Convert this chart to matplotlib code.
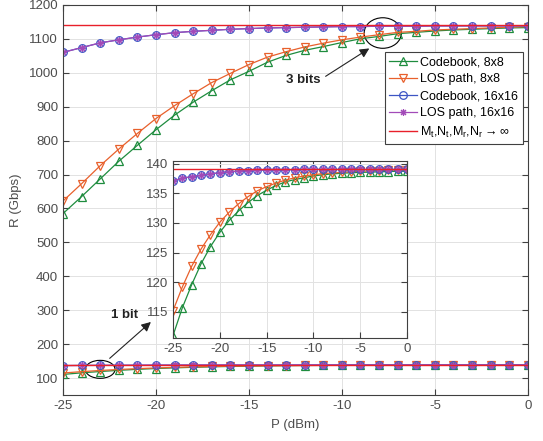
import matplotlib
matplotlib.use("Agg")
import matplotlib.pyplot as plt
from matplotlib.patches import Ellipse

plt.rcParams['font.family'] = ['Liberation Sans', 'DejaVu Sans']
plt.rcParams['mathtext.fontset'] = 'custom'
plt.rcParams['mathtext.rm'] = 'Liberation Sans'
plt.rcParams['axes.unicode_minus'] = False

# transmit power (dBm)
P = [-25, -24, -23, -22, -21, -20, -19, -18, -17, -16, -15, -14, -13,
     -12, -11, -10, -9, -8, -7, -6, -5, -4, -3, -2, -1, 0]

# 3 bits
cb8_3 = [585, 635, 687, 739, 786, 832, 875, 913, 947, 979, 1004, 1031, 1051,
         1066, 1077, 1089, 1100, 1107, 1115, 1119, 1123, 1126, 1128, 1130, 1132, 1133]
los8_3 = [622, 673, 726, 775, 821, 865, 903, 938, 971, 998, 1024, 1046, 1062,
          1076, 1087, 1097, 1105, 1112, 1119, 1122, 1126, 1128, 1130, 1132, 1134, 1136]
cb16_3 = [1060, 1074, 1088, 1097, 1105, 1112, 1118, 1122, 1125, 1128, 1130, 1132, 1133,
          1134, 1135, 1136, 1136, 1137, 1137, 1137, 1138, 1138, 1138, 1138, 1138, 1138]
los16_3 = [1060, 1074, 1088, 1097, 1105, 1112, 1118, 1122, 1125, 1128, 1130, 1132, 1133,
           1134, 1135, 1136, 1136, 1137, 1137, 1137, 1138, 1138, 1138, 1138, 1138, 1138]
lim_3 = 1140

# 1 bit
cb8_1 = [111.0, 115.7, 119.6, 123.1, 126.0, 128.4, 130.4, 132.0, 133.4, 134.6, 135.5, 136.3, 136.9,
         137.3, 137.6, 137.9, 138.1, 138.25, 138.35, 138.45, 138.5, 138.55, 138.6, 138.65, 138.7, 138.7]
los8_1 = [115.2, 119.2, 122.7, 125.6, 128.0, 130.1, 131.8, 133.2, 134.4, 135.4, 136.1, 136.7, 137.2,
          137.6, 137.9, 138.1, 138.3, 138.4, 138.5, 138.6, 138.7, 138.75, 138.8, 138.85, 138.9, 138.9]
cb16_1 = [137.1, 137.5, 137.8, 138.0, 138.25, 138.45, 138.6, 138.7, 138.8, 138.85, 138.9, 138.92, 138.95,
          138.97, 139.0, 139.0, 139.0, 139.0, 139.0, 139.0, 139.0, 139.0, 139.0, 139.0, 139.0, 139.0]
los16_1 = [137.1, 137.5, 137.8, 138.0, 138.25, 138.45, 138.6, 138.7, 138.8, 138.85, 138.9, 138.92, 138.95,
           138.97, 139.0, 139.0, 139.0, 139.0, 139.0, 139.0, 139.0, 139.0, 139.0, 139.0, 139.0, 139.0]
lim_1 = 139.1

labels = ['Codebook, 8x8', 'LOS path, 8x8', 'Codebook, 16x16', 'LOS path, 16x16',
          r'M$_\mathregular{t}$,N$_\mathregular{t}$,M$_\mathregular{r}$,N$_\mathregular{r}$$\rightarrow\infty$']

green = '#1e8c3e'
orange = '#e8602c'
blue = '#3d55c4'
purple = '#a24ab8'
red = '#e8202a'
axcol = '#404040'
gridcol = '#e2e2e2'
asterisk = (8, 2, 0)


def draw(ax, cb8, los8, cb16, los16, lim, ms=5.5):
    l1, = ax.plot(P, cb8, '-^', color=green, mfc='none', ms=ms, lw=0.9, mew=0.9)
    l2, = ax.plot(P, los8, '-v', color=orange, mfc='none', ms=ms, lw=0.9, mew=0.9)
    l3, = ax.plot(P, cb16, '-o', color=blue, mfc='none', ms=ms, lw=0.9, mew=0.9)
    l4, = ax.plot(P, los16, '-', marker=asterisk, color=purple, ms=ms - 0.5, lw=0.9, mew=0.8)
    l5, = ax.plot([P[0], P[-1]], [lim, lim], '-', color=red, lw=1.0)
    return [l1, l2, l3, l4, l5]


def style(ax):
    ax.grid(True, color=gridcol, lw=0.7)
    ax.set_axisbelow(True)
    ax.tick_params(direction='in', top=True, right=True, colors=axcol,
                   labelcolor='#4d4d4d', labelsize=9.5, length=4)
    for s in ax.spines.values():
        s.set_color(axcol)
        s.set_linewidth(0.8)


fig = plt.figure(figsize=(5.43, 4.41), dpi=100)
ax = fig.add_axes([0.116, 0.104, 0.856, 0.885])

handles = draw(ax, cb8_3, los8_3, cb16_3, los16_3, lim_3)
draw(ax, cb8_1, los8_1, cb16_1, los16_1, lim_1)
ax.set_xlim(-25, 0)
ax.set_ylim(50, 1200)
ax.set_xticks(range(-25, 1, 5))
ax.set_yticks(range(100, 1201, 100))
style(ax)
ax.set_xlabel('P (dBm)', fontsize=9.5, color='#4d4d4d', labelpad=5)
ax.set_ylabel('R (Gbps)', fontsize=9.5, color='#4d4d4d', labelpad=5)

leg = ax.legend(handles, labels, loc='upper right', bbox_to_anchor=(0.989, 0.879),
                borderaxespad=0, fontsize=9, fancybox=False, framealpha=1,
                edgecolor=axcol, handlelength=2.2, handletextpad=0.3,
                labelspacing=0.4, borderpad=0.35)
leg.get_frame().set_linewidth(0.8)

# annotations
ax.add_patch(Ellipse((-7.8, 1117), 2.0, 90, fill=False, color='black', lw=0.8))
ax.annotate('', xy=(-8.4, 1076), xytext=(-11.0, 985),
            arrowprops=dict(arrowstyle='-|>', color='#222222', lw=0.8,
                            mutation_scale=14))
ax.text(-12.1, 979, '3 bits', fontsize=9.5, fontweight='bold', ha='center',
        va='center', color='#222222')

ax.add_patch(Ellipse((-23.0, 126), 1.6, 53, fill=False, color='black', lw=0.8))
ax.annotate('', xy=(-20.16, 271), xytext=(-22.6, 153),
            arrowprops=dict(arrowstyle='-|>', color='#222222', lw=0.8,
                            mutation_scale=14))
ax.text(-21.7, 286, '1 bit', fontsize=9.5, fontweight='bold', ha='center',
        va='center', color='#222222')

# inset
axi = fig.add_axes([0.3186, 0.2336, 0.431, 0.401])
draw(axi, cb8_1, los8_1, cb16_1, los16_1, lim_1)
axi.set_xlim(-25, 0)
axi.set_ylim(110.6, 140.4)
axi.set_xticks(range(-25, 1, 5))
axi.set_yticks(range(115, 141, 5))
style(axi)
axi.set_facecolor('white')

fig.savefig('out.png', dpi=100)
